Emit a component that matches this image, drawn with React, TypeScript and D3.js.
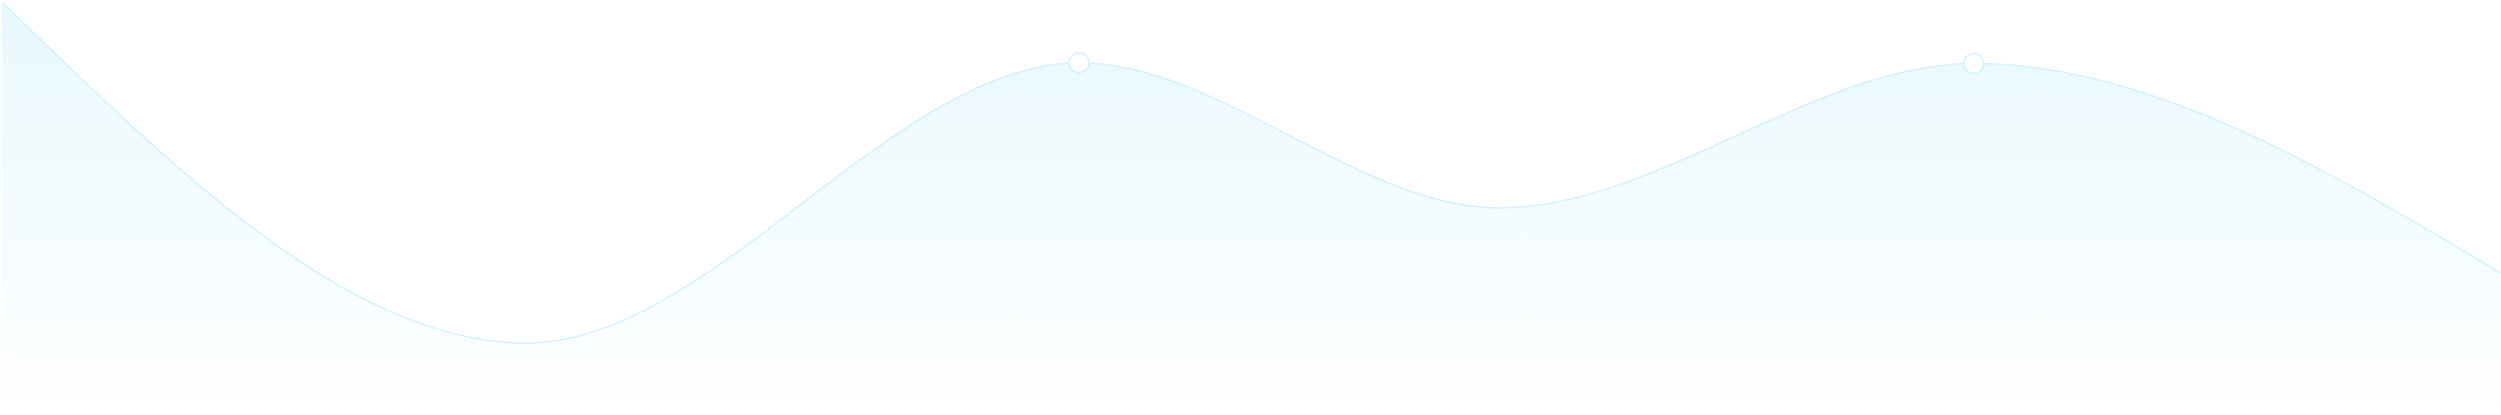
import { useRef, useEffect } from "react";
import * as d3 from "d3";

// horizontal position (percent of width) and level of each point along the wave
const positions = [0, 21, 43.1, 59.9, 78.9, 100];
const levels = [99.5, 17.3, 84.9, 49.9, 84.7, 34.2];
// indices of the points that carry a marker
const marked = [2, 4];

const W = 2501, H = 415;

export default function App() {
  const svgRef = useRef<SVGSVGElement>(null);

  useEffect(() => {
    if (!svgRef.current) return;
    const svg = d3.select(svgRef.current);
    svg.selectAll("*").remove();

    const data = positions.map((p, i) => ({ p, v: levels[i] }));
    const x = d3.scaleLinear().domain([0, 100]).range([2, W]);
    const y = d3.scaleLinear().domain([0, 100]).range([H, 0]);

    const grad = svg.append("defs").append("linearGradient")
      .attr("id", "waveFill").attr("gradientUnits", "userSpaceOnUse")
      .attr("x1", 0).attr("y1", 0).attr("x2", 0).attr("y2", H);
    grad.append("stop").attr("offset", "0%").attr("stop-color", "#e8f8fd");
    grad.append("stop").attr("offset", "100%").attr("stop-color", "#ffffff");

    const area = d3.area<{ p: number; v: number }>()
      .x(d => x(d.p)).y0(H).y1(d => y(d.v)).curve(d3.curveMonotoneX);
    const line = d3.line<{ p: number; v: number }>()
      .x(d => x(d.p)).y(d => y(d.v)).curve(d3.curveMonotoneX);

    svg.append("path").datum(data).attr("fill", "url(#waveFill)").attr("d", area);
    svg.append("path").datum(data).attr("fill", "none")
      .attr("stroke", "#d3f2fb").attr("stroke-width", 1.5).attr("d", line);

    svg.selectAll("circle.mark").data(marked.map(i => data[i])).enter()
      .append("circle").attr("class", "mark")
      .attr("cx", d => x(d.p)).attr("cy", d => y(d.v)).attr("r", 10)
      .attr("fill", "#ffffff").attr("stroke", "#d3f2fb").attr("stroke-width", 1.5);
  }, []);

  return (
    <svg ref={svgRef} width={W} height={H}
      style={{ position: "absolute", left: 0, top: 0, display: "block" }} />
  );
}
